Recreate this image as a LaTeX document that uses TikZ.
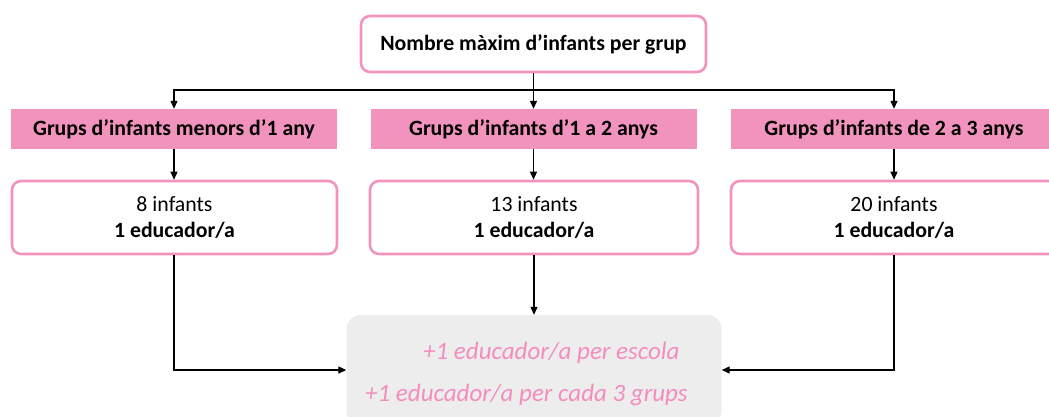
\documentclass[tikz,border=0pt]{standalone}
\usepackage{fontspec}
\setmainfont{Carlito}
\usetikzlibrary{arrows.meta}
\definecolor{pinkfill}{HTML}{F293BE}
\definecolor{pinkline}{HTML}{F293BE}
\definecolor{pinktext}{HTML}{F48DBD}
\definecolor{grayfill}{HTML}{EDEDED}
\tikzset{
  whitebox/.style={draw=pinkline, line width=2.6pt, fill=white, rounded corners=9pt, minimum height=#1, inner sep=0pt, align=center, font=\fontsize{21.8}{26}\selectfont},
  headbox/.style={fill=pinkfill, minimum height=40pt, inner sep=0pt, font=\bfseries\fontsize{21.8}{24}\selectfont},
  graybox/.style={fill=grayfill, rounded corners=14pt, inner sep=0pt},
  ptext/.style={text=pinktext, font=\itshape\fontsize{25}{28}\selectfont, inner sep=0pt},
  arr/.style={-{Triangle[length=8pt,width=7pt]}, line width=1.3pt, black},
  ln/.style={line width=1.3pt, black}
}
\begin{document}
\begin{tikzpicture}[x=1pt,y=1pt]
\useasboundingbox (0,0) rectangle (1049,416);
\clip (0,0) rectangle (1049,416);
% top
\node[whitebox=56pt, minimum width=345pt, font=\bfseries\fontsize{21.8}{24}\selectfont] (top) at (533.5,372) {Nombre màxim d’infants per grup};
% headers
\node[headbox, minimum width=326pt] (h1) at (174,287) {Grups d’infants menors d’1 any};
\node[headbox, minimum width=326pt] (h2) at (533.5,287) {Grups d’infants d’1 a 2 anys};
\node[headbox, minimum width=326pt] (h3) at (894,287) {Grups d’infants de 2 a 3 anys};
% white boxes
\node[whitebox=73pt, minimum width=325pt] (w1) at (174.5,198.5) {8 infants\\\textbf{1 educador/a}};
\node[whitebox=73pt, minimum width=328pt] (w2) at (534,198.5) {13 infants\\\textbf{1 educador/a}};
\node[whitebox=73pt, minimum width=326pt] (w3) at (894,198.5) {20 infants\\\textbf{1 educador/a}};
% gray box
\node[graybox, minimum width=375pt, minimum height=110pt] (g) at (534,46) {};
\node[ptext, anchor=west] (t1) at (423,63) {+1 educador/a per escola};
\node[ptext, anchor=west] (t2) at (365,21) {+1 educador/a per cada 3 grups};
% connectors
\coordinate (bar) at (533.5,326);
\draw[ln] (top.south) -- (bar);
\draw[arr] (bar) -| (h1.north);
\draw[arr] (bar) -| (h3.north);
\draw[arr] (bar) -- (h2.north);
\draw[arr] (h1.south) -- (h1.south |- w1.north);
\draw[arr] (h2.south) -- (h2.south |- w2.north);
\draw[arr] (h3.south) -- (h3.south |- w3.north);
\draw[arr] (w1.south -| h1.south) |- (g.west);
\draw[arr] (w3.south -| h3.south) |- (g.east);
\draw[arr] (w2.south) -- (g.north);
\end{tikzpicture}
\end{document}
